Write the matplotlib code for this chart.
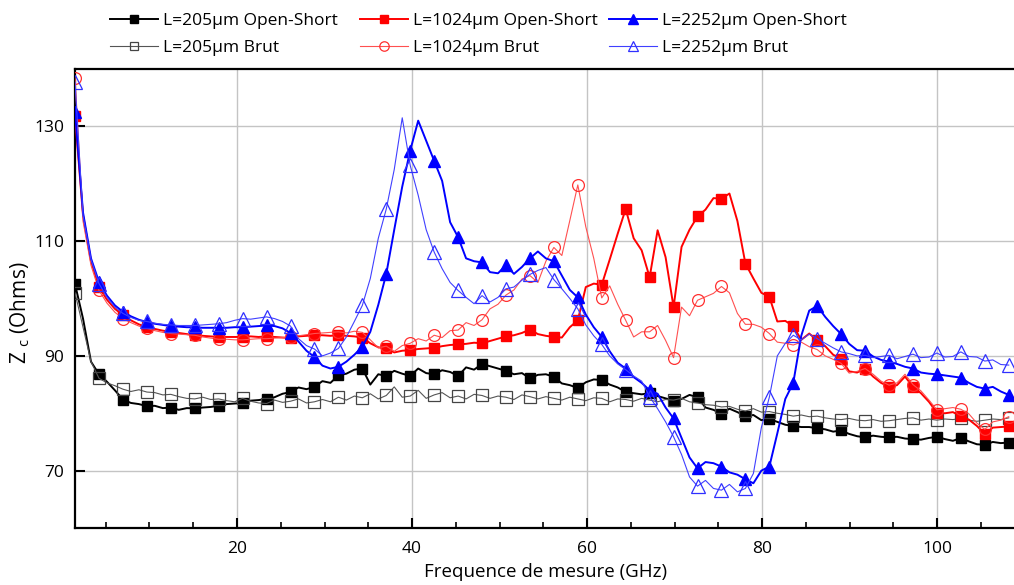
import numpy as np
import matplotlib
matplotlib.use("Agg")
import matplotlib.pyplot as plt
from matplotlib.ticker import MultipleLocator

# frequency grid (GHz), markers on every 3rd sample
freq = 1.5 + 0.9117 * np.arange(118)

z205_os = [102.5, 96.5, 89.0, 86.8, 85.5, 84.0, 82.4, 81.8, 81.6, 81.25,
           81.3, 80.9, 81.0, 80.6, 80.9, 80.85, 81.0, 81.1, 81.3, 81.6,
           81.7, 81.8, 82.2, 82.3, 82.5, 82.8, 83.4, 83.7, 84.5, 84.2,
           84.6, 85.6, 85.3, 86.6, 86.9, 87.6, 87.8, 85.0, 86.8, 86.5,
           87.4, 86.9, 86.5, 87.8, 87.0, 86.8, 87.5, 87.2, 86.5, 88.0,
           87.6, 88.6, 88.2, 87.8, 87.4, 86.8, 87.0, 86.1, 86.7, 86.8,
           86.35, 85.2, 84.9, 84.4, 85.4, 85.9, 85.8, 85.0, 84.5, 83.7,
           83.5, 83.3, 83.5, 83.0, 82.6, 82.2, 82.5, 83.2, 82.8, 81.0,
           80.6, 79.9, 80.8, 80.2, 79.5, 79.7, 78.8, 79.0, 78.5, 78.0,
           77.8, 77.6, 77.6, 77.4, 77.2, 76.8, 77.0, 76.4, 76.0, 75.8,
           76.1, 75.9, 75.8, 75.9, 75.6, 75.5, 75.4, 75.7, 75.9, 75.5,
           75.2, 75.7, 75.1, 74.6, 74.5, 75.0, 74.8, 74.9]

z205_brut = [101.0, 95.0, 89.0, 86.1, 85.3, 84.8, 84.2, 83.8, 84.1, 83.7,
             83.6, 83.2, 83.3, 82.9, 82.6, 82.5, 82.8, 82.4, 82.5, 82.2,
             82.0, 82.6, 82.1, 81.8, 81.7, 82.3, 81.9, 82.1, 82.5, 81.8,
             82.0, 82.4, 82.0, 82.8, 82.3, 83.0, 82.7, 83.4, 82.5, 83.1,
             84.6, 82.8, 83.0, 84.0, 82.6, 83.2, 83.6, 82.7, 83.0, 82.5,
             83.3, 83.1, 82.6, 83.0, 82.8, 82.4, 83.2, 82.9, 82.5, 82.9,
             82.6, 82.3, 82.8, 82.5, 82.2, 82.7, 82.6, 82.0, 82.5, 82.4,
             82.1, 82.6, 82.3, 82.0, 82.4, 82.3, 82.6, 82.0, 81.8, 81.5,
             81.4, 81.1, 81.2, 80.7, 80.4, 80.8, 80.2, 80.3, 80.0, 79.8,
             79.5, 79.7, 79.4, 79.5, 79.2, 79.0, 78.9, 79.1, 78.8, 78.7,
             78.9, 78.6, 78.7, 78.9, 79.1, 79.2, 78.8, 79.0, 78.8, 79.0,
             78.9, 79.1, 78.8, 78.6, 78.8, 79.0, 78.9, 79.2]

z1024_os = [131.8, 114.5, 106.5, 102.0, 99.8, 98.2, 97.1, 96.2, 95.5, 95.0,
            94.7, 94.4, 94.2, 94.0, 93.8, 93.6, 93.5, 93.4, 93.3, 93.3,
            93.3, 93.3, 93.4, 93.3, 93.4, 93.3, 93.2, 93.1, 93.4, 93.5,
            93.6, 93.6, 93.5, 93.6, 93.5, 93.4, 93.2, 92.2, 91.5, 91.3,
            90.6, 90.9, 91.0, 91.2, 91.3, 91.4, 91.7, 91.9, 92.0, 92.1,
            92.3, 92.2, 92.6, 93.0, 93.4, 93.6, 94.0, 94.6, 93.8, 93.5,
            93.3, 93.2, 95.0, 96.2, 102.0, 102.6, 102.4, 106.8, 111.3, 115.6,
            110.5, 108.4, 103.7, 111.9, 107.2, 98.5, 109.0, 112.0, 114.3, 115.5,
            117.5, 117.4, 118.3, 113.5, 106.1, 103.5, 101.0, 100.3, 96.0, 96.1,
            95.2, 92.8, 93.9, 92.7, 91.7, 90.2, 89.5, 87.3, 87.1, 87.8,
            86.4, 85.3, 84.6, 84.9, 86.4, 84.6, 83.5, 82.0, 80.1, 80.0,
            80.2, 79.5, 78.9, 77.8, 76.4, 77.5, 77.6, 77.7]

z1024_brut = [138.5, 113.5, 105.8, 101.4, 99.2, 97.6, 96.5, 95.8, 95.2, 94.8,
              94.4, 94.1, 93.9, 93.8, 93.7, 93.6, 93.3, 93.1, 92.9, 92.9,
              92.8, 92.8, 92.9, 93.0, 93.0, 93.1, 93.2, 93.3, 93.5, 93.7,
              93.9, 94.0, 94.1, 94.2, 94.0, 94.3, 94.1, 92.8, 91.4, 91.7,
              90.8, 91.8, 92.2, 93.0, 92.6, 93.6, 93.2, 94.4, 94.5, 95.8,
              95.3, 96.3, 98.2, 99.0, 100.6, 101.5, 103.4, 104.0, 102.8, 106.5,
              108.9, 107.5, 113.6, 119.8, 112.5, 107.0, 100.1, 102.2, 99.0, 96.2,
              93.3, 94.2, 94.2, 95.3, 92.7, 89.7, 98.5, 97.0, 99.7, 100.3,
              100.9, 102.1, 101.0, 97.4, 95.5, 95.5, 95.0, 93.9, 92.4, 92.2,
              91.9, 92.4, 91.6, 91.1, 90.0, 89.4, 88.7, 87.0, 87.3, 87.8,
              86.8, 85.6, 84.9, 85.3, 86.8, 85.0, 83.9, 82.3, 80.6, 80.8,
              81.0, 80.7, 79.9, 78.3, 77.2, 78.5, 78.8, 79.4]

z2252_os = [132.5, 115.0, 107.0, 102.9, 100.5, 98.8, 97.7, 96.9, 96.3, 95.9,
            95.6, 95.4, 95.2, 95.1, 95.0, 95.0, 94.9, 94.9, 94.9, 94.9,
            95.0, 95.0, 95.1, 95.2, 95.3, 95.2, 94.8, 94.0, 92.5, 90.9,
            89.8, 88.3, 87.8, 88.1, 89.0, 90.2, 91.6, 94.2, 98.9, 104.3,
            112.0, 119.5, 125.8, 131.0, 127.5, 124.0, 120.5, 113.3, 110.7, 107.0,
            106.5, 106.3, 104.6, 104.4, 105.8, 104.3, 105.5, 107.0, 108.2, 107.0,
            106.5, 104.0, 101.5, 100.2, 97.2, 95.0, 93.3, 90.8, 88.8, 87.8,
            86.3, 85.3, 84.0, 83.4, 81.0, 79.1, 75.7, 72.3, 70.4, 71.5,
            71.3, 70.7, 69.7, 69.3, 68.5, 67.8, 70.0, 70.7, 76.5, 82.5,
            85.3, 93.5, 97.9, 98.7, 96.8, 95.2, 93.8, 92.1, 91.0, 90.9,
            89.9, 89.3, 89.0, 88.6, 88.1, 87.8, 87.1, 86.9, 86.8, 86.6,
            86.4, 86.2, 85.3, 84.6, 84.3, 84.6, 83.8, 83.2]

z2252_brut = [137.7, 114.5, 106.8, 102.6, 100.2, 98.5, 97.4, 96.7, 96.2, 96.0,
              95.7, 95.5, 95.4, 95.3, 95.3, 95.3, 95.4, 95.5, 95.6, 95.8,
              96.2, 96.5, 96.4, 96.6, 96.8, 96.5, 96.0, 95.2, 93.0, 91.8,
              91.2, 90.0, 90.5, 91.3, 93.3, 96.0, 98.8, 103.5, 110.5, 115.6,
              122.5, 131.5, 123.2, 118.0, 112.0, 108.1, 105.2, 102.8, 101.4, 100.2,
              99.1, 100.5, 99.4, 100.2, 101.7, 102.0, 103.2, 104.2, 104.9, 105.4,
              103.3, 101.7, 100.0, 98.2, 95.4, 93.5, 92.0, 90.0, 88.6, 87.6,
              86.5, 85.6, 82.9, 80.8, 78.5, 75.9, 72.8, 68.9, 67.3, 68.3,
              66.9, 66.6, 67.6, 66.3, 66.9, 69.5, 77.5, 82.8, 90.0, 92.2,
              93.6, 92.8, 93.8, 93.0, 92.2, 91.4, 90.7, 90.4, 90.0, 90.1,
              89.7, 89.9, 90.1, 89.5, 89.9, 90.3, 89.7, 89.8, 90.5, 89.8,
              89.9, 90.7, 89.9, 89.8, 89.1, 89.3, 88.5, 88.4]

labels = ["L=205\u03bcm Open-Short", "L=205\u03bcm Brut",
          "L=1024\u03bcm Open-Short", "L=1024\u03bcm Brut",
          "L=2252\u03bcm Open-Short", "L=2252\u03bcm Brut"]

plt.rcParams['font.family'] = ['Open Sans', 'DejaVu Sans']

fig = plt.figure(figsize=(10.14, 5.85), dpi=100)
ax = fig.add_axes([0.074, 0.0974, 0.928, 0.7846])

ax.grid(True, color='#c4c4c4', linewidth=1.0, zorder=0)

styles = [
    (z205_os, dict(color='black', lw=1.4, marker='s', ms=7.5, mfc='black', mec='black')),
    (z205_brut, dict(color='#555555', lw=0.8, marker='s', ms=8, mfc='none', mec='#444444', mew=0.9)),
    (z1024_os, dict(color='#ff0000', lw=1.4, marker='s', ms=7.5, mfc='#ff0000', mec='#ff0000')),
    (z1024_brut, dict(color='#ff5050', lw=0.8, marker='o', ms=8.5, mfc='none', mec='#ff3030', mew=0.9)),
    (z2252_os, dict(color='#0000ff', lw=1.4, marker='^', ms=9, mfc='#0000ff', mec='#0000ff')),
    (z2252_brut, dict(color='#4040ff', lw=0.8, marker='^', ms=9.5, mfc='none', mec='#3030ff', mew=0.9)),
]

handles = []
for (vals, st), lab in zip(styles, labels):
    h, = ax.plot(freq, vals, markevery=3, label=lab, zorder=3, **st)
    handles.append(h)

ax.set_xlim(1.5, 109.0)
ax.set_ylim(60, 140)
ax.xaxis.set_major_locator(MultipleLocator(20))
ax.xaxis.set_minor_locator(MultipleLocator(5))
ax.set_yticks([70, 90, 110, 130])
ax.tick_params(axis='both', which='major', direction='in', length=7, width=1.5,
               labelsize=12.5, colors='black', pad=9)
ax.tick_params(axis='y', which='major', pad=8)
ax.tick_params(axis='x', which='minor', direction='in', length=4, width=1.2)
ax.tick_params(axis='y', which='minor', left=False)

for s in ['left', 'bottom', 'top']:
    ax.spines[s].set_linewidth(1.6)
ax.spines['right'].set_visible(False)

ax.set_xlabel('Frequence de mesure (GHz)', fontsize=13.5, labelpad=5)
ax.set_ylabel('Z $_\\mathregular{c}$ (Ohms)', fontsize=15)
ax.yaxis.set_label_coords(-0.046, 0.468)

# one small legend per column, fixed column pitch as in the original
col_x = [110, 360, 609]
for j, x0 in enumerate(col_x):
    fig.legend(handles=handles[2 * j:2 * j + 2], loc='center left',
               bbox_to_anchor=(x0 / 1014, 1 - 34.5 / 585), frameon=False,
               fontsize=12.5, handlelength=2.75, handletextpad=0.3,
               labelspacing=0.65, borderpad=0, borderaxespad=0, markerscale=0.8)

fig.savefig('out.png', dpi=100)
